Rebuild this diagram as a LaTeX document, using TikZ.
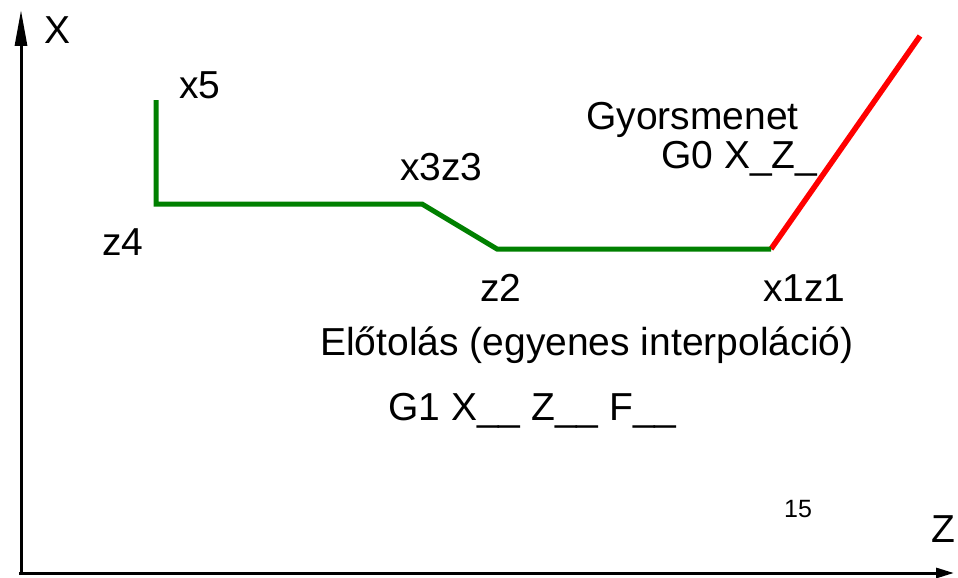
\documentclass[tikz,border=0pt]{standalone}
\usepackage{fontspec}
\setmainfont{Liberation Sans}
\usetikzlibrary{arrows.meta,positioning}
\definecolor{feedgreen}{RGB}{0,128,0}
\definecolor{rapidred}{RGB}{255,0,0}

\begin{document}
\begin{tikzpicture}[x=1pt, y=-1pt,
  axis/.style={line width=3pt, black},
  feed/.style={line width=5pt, draw=feedgreen},
  rapid/.style={line width=5.5pt, draw=rapidred},
  lbl/.style={anchor=base west, inner sep=0pt, font=\fontsize{39}{46}\selectfont},
  small/.style={anchor=base west, inner sep=0pt, font=\fontsize{25}{30}\selectfont}]
  \useasboundingbox (0,0) rectangle (958,578);
  % axes
  \coordinate (O) at (21,575);
  \coordinate (Xtip) at (21,10);
  \coordinate (Zbase) at (19,573);
  \coordinate (Ztip) at (954,573);
  \draw[axis, -{Triangle[length=36pt,width=12pt]}] (O) -- (Xtip);
  \draw[axis, -{Triangle[length=18pt,width=10pt]}] (Zbase) -- (Ztip);
  \node[lbl] (xlab) at (44,44) {X};
  \node[lbl] (zlab) at (931,542) {Z};
  % tool path points
  \coordinate (p5) at (156,100);
  \coordinate (p4) at (156,204);
  \coordinate (p3) at (422,204);
  \coordinate (p2) at (497,249);
  \coordinate (p1) at (771,249);
  \coordinate (p0) at (920,36);
  \draw[rapid] (p0) -- (p1);
  \draw[feed] (p1) -- (p2) -- (p3) -- (p4) -- (p5);
  % point labels
  \node[lbl] (lx5) at (179,99) {x5};
  \node[lbl] (lz4) at (102,255) {z4};
  \node[lbl] (lx3z3) at (400,180) {x3z3};
  \node[lbl] (lz2) at (480,301) {z2};
  \node[lbl] (lx1z1) at (763,301) {x1z1};
  % commands
  \node[lbl] (rapidtxt) at (586,129) {Gyorsmenet};
  \node[lbl] (rapidcmd) at (661,168) {G0 X\_Z\_};
  \node[lbl] (feedtxt) at (320,355) {Előtolás (egyenes interpoláció)};
  \node[lbl] (feedcmd) at (388,420) {G1 X\_\_ Z\_\_ F\_\_};
  \node[small] (pagenum) at (784,517) {15};
\end{tikzpicture}
\end{document}
